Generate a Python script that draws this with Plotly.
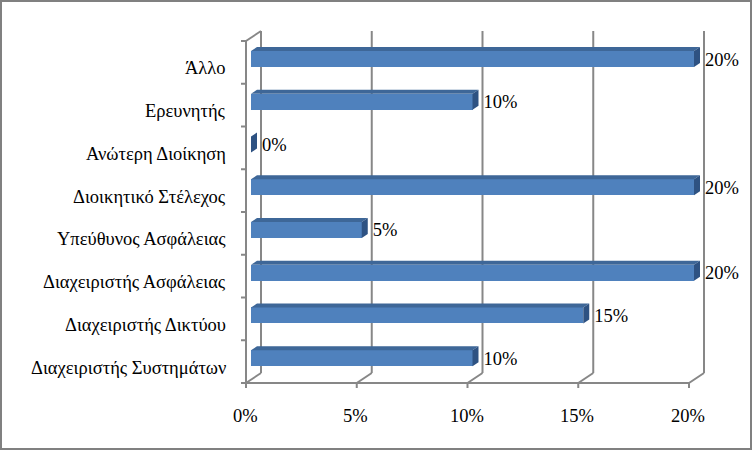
import plotly.graph_objects as go

# ---- data ----
categories = ["Διαχειριστής Συστημάτων", "Διαχειριστής Δικτύου", "Διαχειριστής Ασφάλειας",
              "Υπεύθυνος Ασφάλειας", "Διοικητικό Στέλεχος", "Ανώτερη Διοίκηση",
              "Ερευνητής", "Άλλο"]
values = [10, 15, 20, 5, 20, 0, 10, 20]
x_ticks = [0, 5, 10, 15, 20]
x_tick_labels = ["0%", "5%", "10%", "15%", "20%"]

# ---- geometry (pixel scale helpers) ----
W, H = 753, 451
PX_PER_PCT = 22.15
X0_PX = 246
PX_PER_CAT = 42.75
Y0_PX = 383


def dx(px):
    return px / PX_PER_PCT


def dy(px):
    return px / PX_PER_CAT


xr = [-X0_PX / PX_PER_PCT, (W - X0_PX) / PX_PER_PCT]
yr = [-0.5 - (H - Y0_PX) / PX_PER_CAT, -0.5 + Y0_PX / PX_PER_CAT]

FONT = "Liberation Serif, serif"
FSIZE = 18.5
GRID = "#878787"
FRONT = "#4F81BD"
TOP = "#3E6798"
SIDE = "#2E5282"

n = len(categories)
WALL_DX, WALL_DY = dx(15), dy(10)
BAR_DX, BAR_DY = dx(5), dy(3.4)
BAR_H = dy(16)
DEPTH_X, DEPTH_Y = dx(6), dy(4)

fig = go.Figure()

fig.add_trace(go.Bar(
    orientation="h", x=values, y=[i + BAR_DY for i in range(n)], base=BAR_DX,
    width=BAR_H, marker=dict(color=FRONT, line=dict(width=0)), hoverinfo="skip"))

tx, ty, sx, sy = [], [], [], []
for i, v in enumerate(values):
    yc = i + BAR_DY
    top = yc + BAR_H / 2
    bot = yc - BAR_H / 2
    x0 = BAR_DX
    x1 = BAR_DX + v
    tx += [x0, x1, x1 + DEPTH_X, x0 + DEPTH_X, x0, None]
    ty += [top, top, top + DEPTH_Y, top + DEPTH_Y, top, None]
    sx += [x1, x1 + DEPTH_X, x1 + DEPTH_X, x1, x1, None]
    sy += [bot, bot + DEPTH_Y, top + DEPTH_Y, top, bot, None]
fig.add_trace(go.Scatter(x=tx, y=ty, mode="lines", fill="toself", fillcolor=TOP,
                         line=dict(width=0, color=TOP), hoverinfo="skip"))
fig.add_trace(go.Scatter(x=sx, y=sy, mode="lines", fill="toself", fillcolor=SIDE,
                         line=dict(width=0, color=SIDE), hoverinfo="skip"))

fig.add_trace(go.Scatter(
    x=[BAR_DX + v + DEPTH_X + dx(5) for v in values],
    y=[i + dy(1.5) for i in range(n)],
    mode="text", text=[f"{v}%" for v in values], textposition="middle right",
    textfont=dict(family=FONT, size=FSIZE, color="black"), hoverinfo="skip"))

shapes = []
line = dict(color=GRID, width=2)
ybot = -0.5
ytop = n - 0.5
for k in x_ticks:
    shapes.append(dict(type="line", xref="x", yref="y", x0=k + WALL_DX, x1=k + WALL_DX,
                       y0=ybot + WALL_DY, y1=ytop + WALL_DY, line=line, layer="below"))
    shapes.append(dict(type="line", xref="x", yref="y", x0=k, x1=k + WALL_DX,
                       y0=ybot, y1=ybot + WALL_DY, line=line, layer="below"))
    shapes.append(dict(type="line", xref="x", yref="y", x0=k, x1=k,
                       y0=ybot, y1=ybot - dy(5), line=line, layer="below"))
shapes.append(dict(type="line", xref="x", yref="y", x0=0, x1=x_ticks[-1],
                   y0=ybot, y1=ybot, line=line, layer="below"))
shapes.append(dict(type="line", xref="x", yref="y", x0=0, x1=0,
                   y0=ybot, y1=ytop, line=line, layer="below"))
shapes.append(dict(type="line", xref="x", yref="y", x0=0, x1=WALL_DX,
                   y0=ytop, y1=ytop + WALL_DY, line=line, layer="below"))
for j in range(n + 1):
    shapes.append(dict(type="line", xref="x", yref="y", x0=0, x1=-dx(5),
                       y0=j - 0.5, y1=j - 0.5, line=line, layer="below"))
shapes.append(dict(type="rect", xref="paper", yref="paper",
                   x0=1 / W, x1=1 - 2 / W, y0=2 / H, y1=1 - 1 / H,
                   line=dict(color="#808080", width=2)))

annotations = []
for i, c in enumerate(categories):
    annotations.append(dict(x=-dx(18), y=i - dy(6), xref="x", yref="y", text=c,
                            showarrow=False, xanchor="right", yanchor="middle",
                            font=dict(family=FONT, size=FSIZE, color="black")))
for k, t in zip(x_ticks, x_tick_labels):
    annotations.append(dict(x=k - dx(1), y=ybot - dy(33), xref="x", yref="y", text=t,
                            showarrow=False, xanchor="center", yanchor="middle",
                            font=dict(family=FONT, size=FSIZE, color="black")))

fig.update_layout(
    width=W, height=H, margin=dict(l=0, r=0, t=0, b=0),
    paper_bgcolor="white", plot_bgcolor="white", showlegend=False,
    font=dict(family=FONT),
    xaxis=dict(range=xr, visible=False, fixedrange=True),
    yaxis=dict(range=yr, visible=False, fixedrange=True),
    shapes=shapes, annotations=annotations, bargap=0,
)

fig.write_html("out.html")
